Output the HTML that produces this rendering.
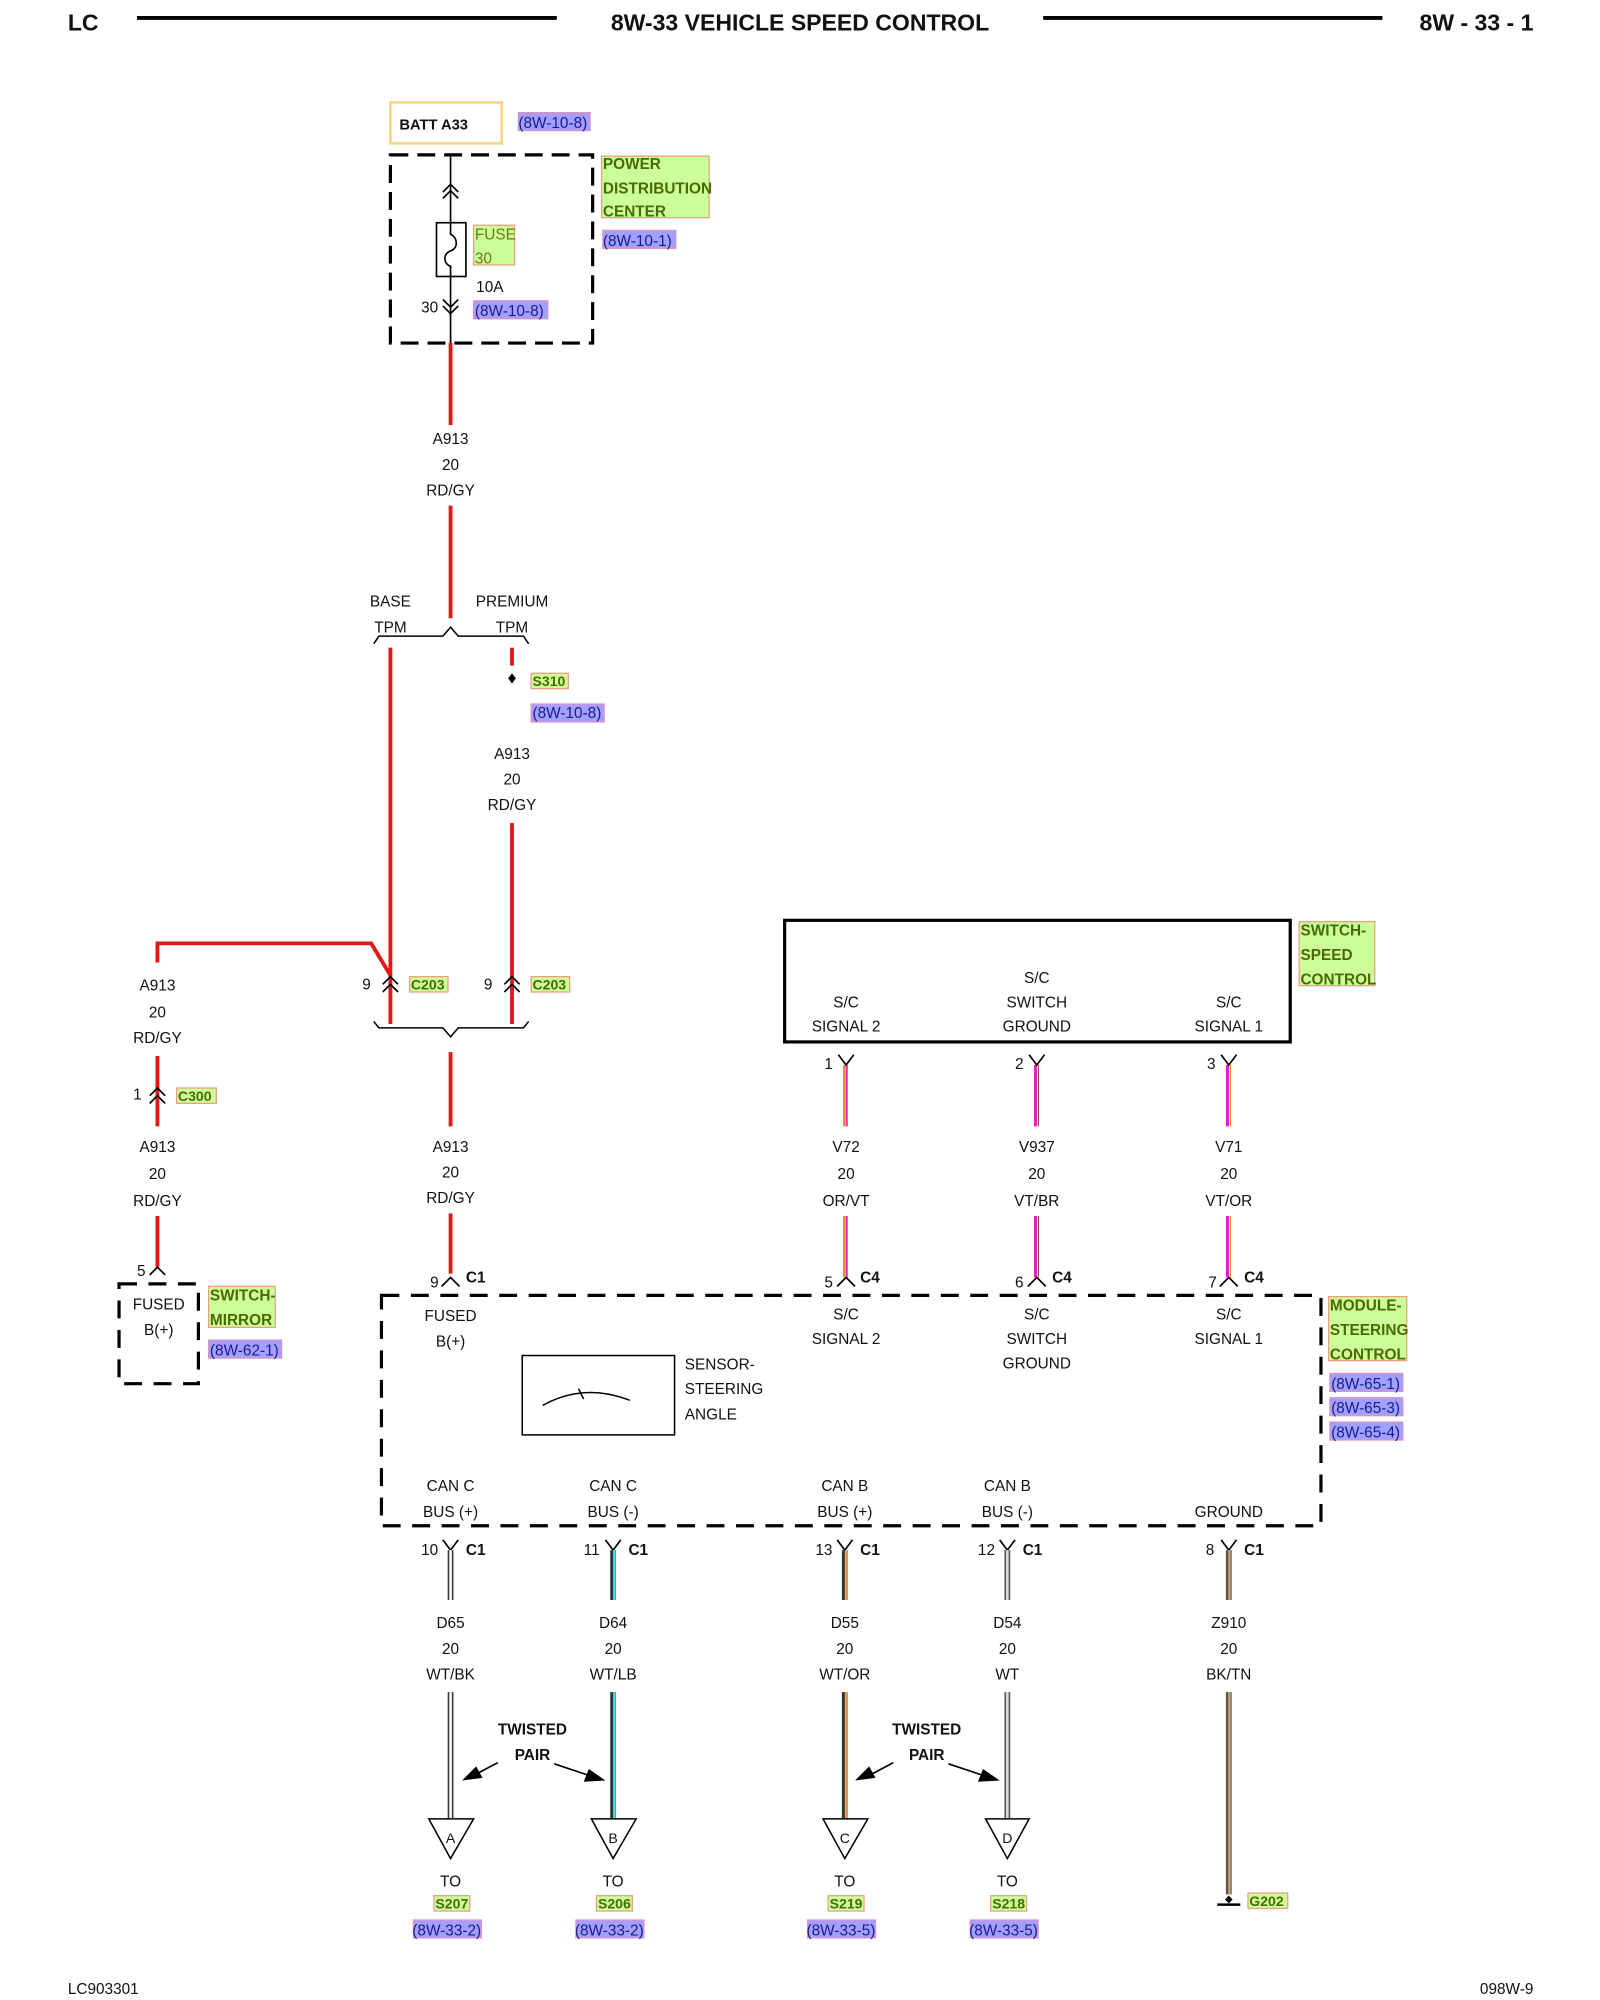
<!DOCTYPE html>
<html><head><meta charset="utf-8"><style>
html,body{margin:0;padding:0;background:#fff}
svg{display:block}
text{font-family:"Liberation Sans",sans-serif;font-size:12px;fill:#111}
.m{text-anchor:middle}
.b{font-weight:bold}
.g{fill:#4a6a00;font-weight:bold}
.p{fill:#1a1a90}
</style></head><body>
<svg width="1600" height="2000" viewBox="0 0 1250 1562.5" xmlns="http://www.w3.org/2000/svg">
<!-- header -->
<text x="53" y="24" class="b" style="font-size:18px">LC</text>
<line x1="107" y1="14" x2="435" y2="14" stroke="#000" stroke-width="3"/>
<text x="625" y="24" class="m b" style="font-size:18px">8W-33 VEHICLE SPEED CONTROL</text>
<line x1="815" y1="14" x2="1080" y2="14" stroke="#000" stroke-width="3"/>
<text x="1198" y="24" class="b" style="font-size:18px;text-anchor:end">8W - 33 - 1</text>

<!-- BATT -->
<rect x="305" y="80" width="87" height="32" fill="#fff" stroke="#f5d680" stroke-width="2"/>
<text x="312" y="101" class="b" style="font-size:11.5px">BATT A33</text>
<rect x="405" y="88" width="56" height="14" fill="#a0a0ff" stroke="#e090c0"/>
<text x="405" y="100" class="p">(8W-10-8)</text>

<!-- PDC -->
<rect x="305" y="121" width="158" height="147" fill="none" stroke="#000" stroke-width="2.5" stroke-dasharray="14 7"/>
<line x1="352" y1="121" x2="352" y2="175" stroke="#000" stroke-width="1.3"/>
<line x1="352" y1="215" x2="352" y2="268" stroke="#000" stroke-width="1.3"/>
<path d="M346 150 L352 144 L358 150 M346 155 L352 149 L358 155" fill="none" stroke="#000" stroke-width="1.3"/>
<path d="M346 234 L352 240 L358 234 M346 239 L352 245 L358 239" fill="none" stroke="#000" stroke-width="1.3"/>
<rect x="341" y="174" width="23" height="42" fill="#fff" stroke="#000" stroke-width="1.3"/>
<path d="M352 174 L352 183 C358 186 358 194 352 196 C346 198 346 206 352 208 L352 216" fill="none" stroke="#000" stroke-width="1.3"/>
<rect x="370" y="176" width="32" height="31" fill="#ccff99" stroke="#e8a080"/>
<text x="371" y="187" style="fill:#6a7a10">FUSE</text>
<text x="371" y="206" style="fill:#6a7a10">30</text>
<text x="372" y="228">10A</text>
<text x="329" y="244">30</text>
<rect x="370" y="235" width="58" height="14" fill="#a0a0ff" stroke="#e090c0"/>
<text x="371" y="247" class="p">(8W-10-8)</text>
<rect x="470" y="122" width="84" height="48" fill="#ccff99" stroke="#e8a080"/>
<text x="471" y="132" class="g">POWER</text>
<text x="471" y="151" class="g">DISTRIBUTION</text>
<text x="471" y="169" class="g">CENTER</text>
<rect x="471" y="180" width="57" height="14" fill="#a0a0ff" stroke="#e090c0"/>
<text x="471" y="192" class="p">(8W-10-1)</text>

<!-- red main wire -->
<g stroke="#e01818" stroke-width="3" fill="none">
<line x1="352" y1="268" x2="352" y2="332"/>
<line x1="352" y1="395" x2="352" y2="483"/>
<line x1="305" y1="506" x2="305" y2="800"/>
<line x1="400" y1="506" x2="400" y2="520"/>
<line x1="400" y1="643" x2="400" y2="800"/>
<line x1="352" y1="822" x2="352" y2="880"/>
<line x1="352" y1="948" x2="352" y2="995"/>
<path d="M305 762 L290 737 L123 737 L123 752"/>
<line x1="123" y1="825" x2="123" y2="880"/>
<line x1="123" y1="950" x2="123" y2="990"/>
</g>
<text x="352" y="347" class="m">A913</text>
<text x="352" y="367" class="m">20</text>
<text x="352" y="387" class="m">RD/GY</text>

<!-- top brace -->
<path d="M292 503 L296 497 L346 497 L352 490 L358 497 L409 497 L413 503" fill="none" stroke="#000" stroke-width="1.2"/>
<text x="305" y="474" class="m">BASE</text>
<text x="305" y="494" class="m">TPM</text>
<text x="400" y="474" class="m">PREMIUM</text>
<text x="400" y="494" class="m">TPM</text>
<path d="M400 526 L403 530 L400 534 L397 530Z" fill="#000"/>
<rect x="415" y="526" width="29" height="12" fill="#ccff99" stroke="#e8a080"/>
<text x="416" y="536" class="g" style="font-size:11px">S310</text>
<rect x="415" y="550" width="57" height="14" fill="#a0a0ff" stroke="#e090c0"/>
<text x="416" y="561" class="p">(8W-10-8)</text>
<text x="400" y="593" class="m">A913</text>
<text x="400" y="613" class="m">20</text>
<text x="400" y="633" class="m">RD/GY</text>

<!-- C203 -->
<path d="M299 769 L305 763 L311 769 M299 775 L305 769 L311 775" fill="none" stroke="#000" stroke-width="1.3"/>
<path d="M394 769 L400 763 L406 769 M394 775 L400 769 L406 775" fill="none" stroke="#000" stroke-width="1.3"/>
<text x="283" y="773">9</text>
<text x="378" y="773">9</text>
<rect x="320" y="763" width="30" height="12" fill="#ccff99" stroke="#e8a080"/>
<text x="321" y="773" class="g" style="font-size:11px">C203</text>
<rect x="415" y="763" width="30" height="12" fill="#ccff99" stroke="#e8a080"/>
<text x="416" y="773" class="g" style="font-size:11px">C203</text>
<path d="M292 798 L296 803 L346 803 L352 810 L358 803 L409 803 L413 798" fill="none" stroke="#000" stroke-width="1.2"/>
<text x="352" y="900" class="m">A913</text>
<text x="352" y="920" class="m">20</text>
<text x="352" y="940" class="m">RD/GY</text>
<path d="M345 1005 L352 998 L359 1005" fill="none" stroke="#000" stroke-width="1.3"/>
<text x="336" y="1006">9</text>
<text x="364" y="1002" class="b">C1</text>

<!-- left branch -->
<text x="123" y="774" class="m">A913</text>
<text x="123" y="795" class="m">20</text>
<text x="123" y="815" class="m">RD/GY</text>
<path d="M117 856 L123 850 L129 856 M117 862 L123 856 L129 862" fill="none" stroke="#000" stroke-width="1.3"/>
<text x="104" y="859">1</text>
<rect x="138" y="850" width="31" height="12" fill="#ccff99" stroke="#e8a080"/>
<text x="139" y="860" class="g" style="font-size:11px">C300</text>
<text x="123" y="900" class="m">A913</text>
<text x="123" y="921" class="m">20</text>
<text x="123" y="942" class="m">RD/GY</text>
<path d="M117 996 L123 990 L129 996" fill="none" stroke="#000" stroke-width="1.3"/>
<text x="107" y="997">5</text>
<rect x="93" y="1003" width="62" height="78" fill="none" stroke="#000" stroke-width="2.5" stroke-dasharray="14 9"/>
<text x="124" y="1023" class="m">FUSED</text>
<text x="124" y="1043" class="m">B(+)</text>
<rect x="163" y="1005" width="52" height="32" fill="#ccff99" stroke="#e8a080"/>
<text x="164" y="1016" class="g">SWITCH-</text>
<text x="164" y="1035" class="g">MIRROR</text>
<rect x="163" y="1047" width="57" height="14" fill="#a0a0ff" stroke="#e090c0"/>
<text x="164" y="1059" class="p">(8W-62-1)</text>

<!-- switch speed control -->
<rect x="613" y="719" width="395" height="95" fill="none" stroke="#000" stroke-width="2.5"/>
<text x="661" y="787" class="m">S/C</text>
<text x="661" y="806" class="m">SIGNAL 2</text>
<text x="810" y="768" class="m">S/C</text>
<text x="810" y="787" class="m">SWITCH</text>
<text x="810" y="806" class="m">GROUND</text>
<text x="960" y="787" class="m">S/C</text>
<text x="960" y="806" class="m">SIGNAL 1</text>
<rect x="1015" y="720" width="59" height="50" fill="#ccff99" stroke="#e8a080"/>
<text x="1016" y="731" class="g">SWITCH-</text>
<text x="1016" y="750" class="g">SPEED</text>
<text x="1016" y="769" class="g">CONTROL</text>

<g fill="none" stroke-width="1.6">
<line x1="659.5" y1="832" x2="659.5" y2="880" stroke="#f08020"/><line x1="661.5" y1="832" x2="661.5" y2="880" stroke="#e020d0"/>
<line x1="659.5" y1="950" x2="659.5" y2="998" stroke="#f08020"/><line x1="661.5" y1="950" x2="661.5" y2="998" stroke="#e020d0"/>
<line x1="809" y1="832" x2="809" y2="880" stroke="#e020d0" stroke-width="2.4"/><line x1="811.3" y1="832" x2="811.3" y2="880" stroke="#8a4a30" stroke-width="0.8"/>
<line x1="809" y1="950" x2="809" y2="998" stroke="#e020d0" stroke-width="2.4"/><line x1="811.3" y1="950" x2="811.3" y2="998" stroke="#8a4a30" stroke-width="0.8"/>
<line x1="959" y1="832" x2="959" y2="880" stroke="#e020d0" stroke-width="2.4"/><line x1="961.3" y1="832" x2="961.3" y2="880" stroke="#f08020" stroke-width="0.8"/>
<line x1="959" y1="950" x2="959" y2="998" stroke="#e020d0" stroke-width="2.4"/><line x1="961.3" y1="950" x2="961.3" y2="998" stroke="#f08020" stroke-width="0.8"/>
</g>
<g fill="none" stroke="#000" stroke-width="1.3">
<path d="M655 824 L661 832 L667 824"/><path d="M804 824 L810 832 L816 824"/><path d="M954 824 L960 832 L966 824"/>
<path d="M654 1005 L661 998 L668 1005"/><path d="M803 1005 L810 998 L817 1005"/><path d="M953 1005 L960 998 L967 1005"/>
</g>
<text x="644" y="835">1</text><text x="793" y="835">2</text><text x="943" y="835">3</text>
<text x="661" y="900" class="m">V72</text><text x="661" y="921" class="m">20</text><text x="661" y="942" class="m">OR/VT</text>
<text x="810" y="900" class="m">V937</text><text x="810" y="921" class="m">20</text><text x="810" y="942" class="m">VT/BR</text>
<text x="960" y="900" class="m">V71</text><text x="960" y="921" class="m">20</text><text x="960" y="942" class="m">VT/OR</text>
<text x="644" y="1006">5</text><text x="672" y="1002" class="b">C4</text>
<text x="793" y="1006">6</text><text x="822" y="1002" class="b">C4</text>
<text x="944" y="1006">7</text><text x="972" y="1002" class="b">C4</text>

<!-- module -->
<rect x="298" y="1012" width="734" height="180" fill="none" stroke="#000" stroke-width="2.5" stroke-dasharray="14 9"/>
<text x="352" y="1032" class="m">FUSED</text>
<text x="352" y="1052" class="m">B(+)</text>
<text x="661" y="1031" class="m">S/C</text>
<text x="661" y="1050" class="m">SIGNAL 2</text>
<text x="810" y="1031" class="m">S/C</text>
<text x="810" y="1050" class="m">SWITCH</text>
<text x="810" y="1069" class="m">GROUND</text>
<text x="960" y="1031" class="m">S/C</text>
<text x="960" y="1050" class="m">SIGNAL 1</text>
<rect x="408" y="1059" width="119" height="62" fill="none" stroke="#000" stroke-width="1.2"/>
<path d="M424 1098 Q456 1080 492 1094" fill="none" stroke="#000" stroke-width="1.2"/>
<line x1="452" y1="1085" x2="456" y2="1093" stroke="#000" stroke-width="1.2"/>
<text x="535" y="1070">SENSOR-</text>
<text x="535" y="1089">STEERING</text>
<text x="535" y="1109">ANGLE</text>
<rect x="1038" y="1013" width="61" height="50" fill="#ccff99" stroke="#e8a080"/>
<text x="1039" y="1024" class="g">MODULE-</text>
<text x="1039" y="1043" class="g">STEERING</text>
<text x="1039" y="1062" class="g">CONTROL</text>
<rect x="1039" y="1073" width="57" height="14" fill="#a0a0ff" stroke="#e090c0"/>
<text x="1040" y="1085" class="p">(8W-65-1)</text>
<rect x="1039" y="1092" width="57" height="14" fill="#a0a0ff" stroke="#e090c0"/>
<text x="1040" y="1104" class="p">(8W-65-3)</text>
<rect x="1039" y="1111" width="57" height="14" fill="#a0a0ff" stroke="#e090c0"/>
<text x="1040" y="1123" class="p">(8W-65-4)</text>
<text x="352" y="1165" class="m">CAN C</text><text x="352" y="1185" class="m">BUS (+)</text>
<text x="479" y="1165" class="m">CAN C</text><text x="479" y="1185" class="m">BUS (-)</text>
<text x="660" y="1165" class="m">CAN B</text><text x="660" y="1185" class="m">BUS (+)</text>
<text x="787" y="1165" class="m">CAN B</text><text x="787" y="1185" class="m">BUS (-)</text>
<text x="960" y="1185" class="m">GROUND</text>

<!-- bottom pins -->
<g fill="none" stroke="#000" stroke-width="1.3">
<path d="M346 1203 L352 1211 L358 1203"/><path d="M473 1203 L479 1211 L485 1203"/>
<path d="M654 1203 L660 1211 L666 1203"/><path d="M781 1203 L787 1211 L793 1203"/>
<path d="M954 1203 L960 1211 L966 1203"/>
</g>
<text x="329" y="1215">10</text><text x="364" y="1215" class="b">C1</text>
<text x="456" y="1215">11</text><text x="491" y="1215" class="b">C1</text>
<text x="637" y="1215">13</text><text x="672" y="1215" class="b">C1</text>
<text x="764" y="1215">12</text><text x="799" y="1215" class="b">C1</text>
<text x="942" y="1215">8</text><text x="972" y="1215" class="b">C1</text>

<!-- bottom wires -->
<g fill="none">
<g stroke="#333" stroke-width="4.5"><line x1="352" y1="1211" x2="352" y2="1250"/><line x1="352" y1="1322" x2="352" y2="1421"/>
<line x1="479" y1="1211" x2="479" y2="1250"/><line x1="479" y1="1322" x2="479" y2="1421"/>
<line x1="660" y1="1211" x2="660" y2="1250"/><line x1="660" y1="1322" x2="660" y2="1421"/>
<line x1="787" y1="1211" x2="787" y2="1250" stroke="#555"/><line x1="787" y1="1322" x2="787" y2="1421" stroke="#555"/>
<line x1="960" y1="1211" x2="960" y2="1250" stroke="#555"/><line x1="960" y1="1322" x2="960" y2="1480" stroke="#555"/></g>
<g stroke-width="2"><line x1="352" y1="1211" x2="352" y2="1250" stroke="#fff"/><line x1="352" y1="1322" x2="352" y2="1421" stroke="#fff"/>
<line x1="480" y1="1211" x2="480" y2="1250" stroke="#40e8e8"/><line x1="480" y1="1322" x2="480" y2="1421" stroke="#40e8e8"/>
<line x1="661" y1="1211" x2="661" y2="1250" stroke="#e8a060"/><line x1="661" y1="1322" x2="661" y2="1421" stroke="#e8a060"/>
<line x1="787" y1="1211" x2="787" y2="1250" stroke="#ddd"/><line x1="787" y1="1322" x2="787" y2="1421" stroke="#ddd"/>
<line x1="960.5" y1="1211" x2="960.5" y2="1250" stroke="#c0a070"/><line x1="960.5" y1="1322" x2="960.5" y2="1480" stroke="#c0a070"/></g>
</g>
<text x="352" y="1272" class="m">D65</text><text x="352" y="1292" class="m">20</text><text x="352" y="1312" class="m">WT/BK</text>
<text x="479" y="1272" class="m">D64</text><text x="479" y="1292" class="m">20</text><text x="479" y="1312" class="m">WT/LB</text>
<text x="660" y="1272" class="m">D55</text><text x="660" y="1292" class="m">20</text><text x="660" y="1312" class="m">WT/OR</text>
<text x="787" y="1272" class="m">D54</text><text x="787" y="1292" class="m">20</text><text x="787" y="1312" class="m">WT</text>
<text x="960" y="1272" class="m">Z910</text><text x="960" y="1292" class="m">20</text><text x="960" y="1312" class="m">BK/TN</text>

<!-- twisted pair -->
<text x="416" y="1355" class="m b">TWISTED</text><text x="416" y="1375" class="m b">PAIR</text>
<text x="724" y="1355" class="m b">TWISTED</text><text x="724" y="1375" class="m b">PAIR</text>
<g stroke="#000" stroke-width="1.3">
<line x1="389" y1="1377" x2="372" y2="1386"/><line x1="433" y1="1378" x2="460" y2="1387"/>
<line x1="698" y1="1377" x2="681" y2="1386"/><line x1="741" y1="1378" x2="768" y2="1387"/>
</g>
<g fill="#000">
<path d="M361 1391 L372 1380 L377 1389Z"/><path d="M473 1391 L460 1382 L456 1392Z"/>
<path d="M668 1391 L679 1380 L684 1389Z"/><path d="M781 1391 L768 1382 L764 1392Z"/>
</g>

<!-- triangles -->
<g fill="#fff" stroke="#000" stroke-width="1.2">
<path d="M335 1421 L370 1421 L352 1452Z"/><path d="M462 1421 L497 1421 L479 1452Z"/>
<path d="M643 1421 L678 1421 L660 1452Z"/><path d="M770 1421 L804 1421 L787 1452Z"/>
</g>
<text x="352" y="1440" class="m" style="font-size:11px">A</text>
<text x="479" y="1440" class="m" style="font-size:11px">B</text>
<text x="660" y="1440" class="m" style="font-size:11px">C</text>
<text x="787" y="1440" class="m" style="font-size:11px">D</text>
<g>
<text x="352" y="1474" class="m">TO</text><text x="479" y="1474" class="m">TO</text><text x="660" y="1474" class="m">TO</text><text x="787" y="1474" class="m">TO</text>
<rect x="339" y="1481" width="28" height="12" fill="#ccff99" stroke="#e8a080"/><text x="353" y="1491" class="m g" style="font-size:11px">S207</text>
<rect x="466" y="1481" width="28" height="12" fill="#ccff99" stroke="#e8a080"/><text x="480" y="1491" class="m g" style="font-size:11px">S206</text>
<rect x="647" y="1481" width="28" height="12" fill="#ccff99" stroke="#e8a080"/><text x="661" y="1491" class="m g" style="font-size:11px">S219</text>
<rect x="774" y="1481" width="28" height="12" fill="#ccff99" stroke="#e8a080"/><text x="788" y="1491" class="m g" style="font-size:11px">S218</text>
<rect x="323" y="1500" width="53" height="14" fill="#a0a0ff" stroke="#e090c0"/><text x="349" y="1512" class="m p">(8W-33-2)</text>
<rect x="450" y="1500" width="53" height="14" fill="#a0a0ff" stroke="#e090c0"/><text x="476" y="1512" class="m p">(8W-33-2)</text>
<rect x="631" y="1500" width="53" height="14" fill="#a0a0ff" stroke="#e090c0"/><text x="657" y="1512" class="m p">(8W-33-5)</text>
<rect x="758" y="1500" width="53" height="14" fill="#a0a0ff" stroke="#e090c0"/><text x="784" y="1512" class="m p">(8W-33-5)</text>
</g>
<!-- ground -->
<line x1="951" y1="1488" x2="969" y2="1488" stroke="#000" stroke-width="2"/>
<path d="M960 1481 L963 1484 L960 1487 L957 1484Z" fill="#000"/>
<rect x="975" y="1479" width="31" height="12" fill="#ccff99" stroke="#e8a080"/>
<text x="976" y="1489" class="g" style="font-size:11px">G202</text>

<!-- footer -->
<text x="53" y="1558">LC903301</text>
<text x="1198" y="1558" style="text-anchor:end">098W-9</text>
</svg>
</body></html>
